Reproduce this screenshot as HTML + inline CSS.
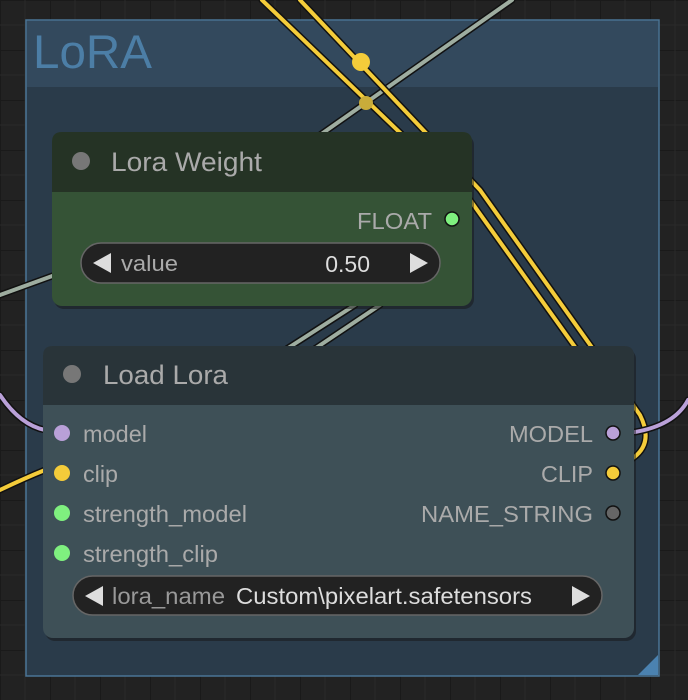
<!DOCTYPE html>
<html><head><style>
body{margin:0;background:#202020;}
svg{display:block}
text{font-family:"Liberation Sans",sans-serif;}
</style></head><body>
<svg width="688" height="700" xmlns="http://www.w3.org/2000/svg">
<defs>
<pattern id="g" width="50" height="50" patternUnits="userSpaceOnUse">
<rect width="50" height="50" fill="#222"/>
<path d="M0 0H50M0 0V50" stroke="#1a1a1a" stroke-width="2"/>
<path d="M25 0V50M0 25H50" stroke="#2a2a2a" stroke-width="1"/>
</pattern>
</defs>
<rect width="688" height="700" fill="url(#g)"/>
<rect x="26" y="20" width="633" height="656" fill="#2a3b4a" stroke="#4b7596" stroke-width="1.5"/>
<rect x="27" y="21" width="631" height="66" fill="#33495d"/>
<text x="33" y="68" font-size="47" fill="#4c7ea6" textLength="119" lengthAdjust="spacingAndGlyphs">LoRA</text>
<path d="M658 655V675H638Z" fill="#4b82b0"/>
<g fill="none" stroke-linecap="round">
<path d="M512 0 L320 135" stroke="#111" stroke-width="7"/><path d="M512 0 L320 135" stroke="#9eada0" stroke-width="4"/>
<path d="M0 295 L55 275" stroke="#111" stroke-width="7"/><path d="M0 295 L55 275" stroke="#9eada0" stroke-width="4"/>
<path d="M285 350 L355 305 M310 352 L380 305" stroke="#111" stroke-width="7"/>
<path d="M285 350 L355 305 M310 352 L380 305" stroke="#9eada0" stroke-width="4"/>
<path d="M262 0 L470 200 L620 410 Q640 440 615 473" stroke="#111" stroke-width="7"/>
<path d="M300 0 L480 190 L640 415 Q655 445 630 460" stroke="#111" stroke-width="7"/>
<path d="M262 0 L470 200 L620 410 Q640 440 615 473" stroke="#f4cc3a" stroke-width="4"/>
<path d="M300 0 L480 190 L640 415 Q655 445 630 460" stroke="#f4cc3a" stroke-width="4"/>
<path d="M0 490 Q25 478 45 470" stroke="#111" stroke-width="7"/><path d="M0 490 Q25 478 45 470" stroke="#f4cc3a" stroke-width="4"/>
<path d="M0 395 Q20 425 45 430" stroke="#111" stroke-width="7"/><path d="M0 395 Q20 425 45 430" stroke="#b9a0d8" stroke-width="4"/>
<path d="M688 400 Q675 425 635 432" stroke="#111" stroke-width="7"/><path d="M688 400 Q675 425 635 432" stroke="#b9a0d8" stroke-width="4"/>
</g>
<circle cx="361" cy="62" r="9" fill="#f4cc3a"/>
<circle cx="366" cy="103" r="7" fill="#c9ac3a"/>
<rect x="54" y="135" width="420" height="174" rx="10" fill="#161616" opacity="0.5"/>
<rect x="52" y="132" width="420" height="174" rx="10" fill="#355336"/>
<path d="M52 192V142Q52 132 62 132H462Q472 132 472 142V192Z" fill="#253325"/>
<circle cx="81" cy="161" r="9" fill="#777"/>
<text x="111" y="171" font-size="27" fill="#aaa" textLength="151" lengthAdjust="spacingAndGlyphs">Lora Weight</text>
<text x="432" y="229" font-size="23" fill="#aaa" text-anchor="end" textLength="75" lengthAdjust="spacingAndGlyphs">FLOAT</text>
<circle cx="452" cy="219" r="7" fill="#7ff07f" stroke="#111" stroke-width="1.5"/>
<rect x="81" y="243" width="359" height="40" rx="20" fill="#222" stroke="#666" stroke-width="1.5"/>
<path d="M93 263L111 253V273Z" fill="#ddd"/>
<path d="M428 263L410 253V273Z" fill="#ddd"/>
<text x="121" y="271" font-size="22" fill="#aaa" textLength="57" lengthAdjust="spacingAndGlyphs">value</text>
<text x="370" y="272" font-size="23" fill="#ddd" text-anchor="end">0.50</text>
<rect x="45" y="349" width="591" height="292" rx="10" fill="#161616" opacity="0.5"/>
<rect x="43" y="346" width="591" height="292" rx="10" fill="#3e5057"/>
<path d="M43 405V356Q43 346 53 346H624Q634 346 634 356V405Z" fill="#293439"/>
<circle cx="72" cy="374" r="9" fill="#777"/>
<text x="103" y="384" font-size="27" fill="#aaa" textLength="125" lengthAdjust="spacingAndGlyphs">Load Lora</text>
<g font-size="23" fill="#aaa" lengthAdjust="spacingAndGlyphs">
<text x="83" y="442" textLength="64" lengthAdjust="spacingAndGlyphs">model</text>
<text x="83" y="482" textLength="35" lengthAdjust="spacingAndGlyphs">clip</text>
<text x="83" y="522" textLength="164" lengthAdjust="spacingAndGlyphs">strength_model</text>
<text x="83" y="562" textLength="135" lengthAdjust="spacingAndGlyphs">strength_clip</text>
<text x="509" y="442" textLength="84" lengthAdjust="spacingAndGlyphs">MODEL</text>
<text x="541" y="482" textLength="52" lengthAdjust="spacingAndGlyphs">CLIP</text>
<text x="421" y="522" textLength="172" lengthAdjust="spacingAndGlyphs">NAME_STRING</text>
</g>
<circle cx="62" cy="433" r="8" fill="#b9a0d8"/>
<circle cx="62" cy="473" r="8" fill="#f4cc3a"/>
<circle cx="62" cy="513" r="8" fill="#7ff07f"/>
<circle cx="62" cy="553" r="8" fill="#7ff07f"/>
<circle cx="613" cy="433" r="7" fill="#b9a0d8" stroke="#111" stroke-width="1.5"/>
<circle cx="613" cy="473" r="7" fill="#f4cc3a" stroke="#111" stroke-width="1.5"/>
<circle cx="613" cy="513" r="7" fill="#666" stroke="#111" stroke-width="1.5"/>
<rect x="73" y="576" width="529" height="39" rx="19.5" fill="#222" stroke="#666" stroke-width="1.5"/>
<path d="M85 596L103 586V606Z" fill="#ddd"/>
<path d="M590 596L572 586V606Z" fill="#ddd"/>
<text x="112" y="604" font-size="23" fill="#999" textLength="113" lengthAdjust="spacingAndGlyphs">lora_name</text>
<text x="236" y="604" font-size="23" fill="#ddd" textLength="296" lengthAdjust="spacingAndGlyphs">Custom\pixelart.safetensors</text>
</svg>
</body></html>
